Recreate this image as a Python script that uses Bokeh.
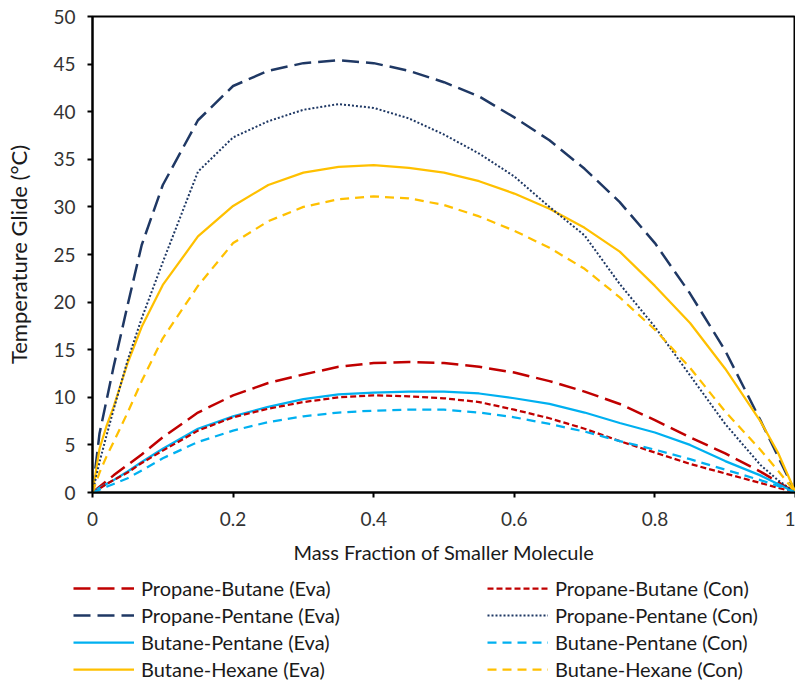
from bokeh.plotting import figure
from bokeh.models import Legend, LegendItem, FixedTicker, Range1d
from bokeh.embed import file_html
from bokeh.resources import INLINE

# ---- data ----
mass_fraction = [0, 0.01, 0.02, 0.03, 0.05, 0.07, 0.1, 0.15, 0.2, 0.25, 0.3, 0.35, 0.4,
                 0.45, 0.5, 0.55, 0.6, 0.65, 0.7, 0.75, 0.8, 0.85, 0.9, 0.95, 0.975, 1.0]

propane_butane_eva = [0, 0.6, 1.2, 1.8, 2.9, 4.0, 5.8, 8.4, 10.2, 11.5, 12.4, 13.2, 13.6,
                      13.7, 13.6, 13.2, 12.6, 11.7, 10.6, 9.3, 7.6, 5.8, 4.1, 2.2, 1.1, 0]
propane_butane_con = [0, 0.4, 0.9, 1.3, 2.1, 3.1, 4.4, 6.5, 7.9, 8.8, 9.5, 10.0, 10.2,
                      10.1, 9.9, 9.5, 8.7, 7.8, 6.7, 5.4, 4.2, 3.0, 2.0, 1.0, 0.5, 0]
propane_pentane_eva = [0, 6.2, 9.7, 13.2, 19.7, 26.0, 32.3, 39.1, 42.7, 44.3, 45.1, 45.4, 45.1,
                       44.3, 43.1, 41.6, 39.4, 37.0, 34.0, 30.5, 26.2, 20.9, 14.9, 7.6, 3.8, 0]
propane_pentane_con = [0, 3.2, 6.0, 8.7, 13.9, 18.3, 24.2, 33.7, 37.3, 39.0, 40.2, 40.8, 40.4,
                       39.3, 37.6, 35.6, 33.2, 30.0, 27.0, 21.9, 17.4, 12.3, 7.2, 2.9, 1.3, 0]
butane_pentane_eva = [0, 0.5, 0.9, 1.3, 2.2, 3.2, 4.6, 6.7, 8.0, 9.0, 9.8, 10.3, 10.5,
                      10.6, 10.6, 10.4, 9.9, 9.3, 8.4, 7.3, 6.3, 5.0, 3.3, 1.8, 0.9, 0]
butane_pentane_con = [0, 0.3, 0.6, 0.9, 1.5, 2.3, 3.6, 5.3, 6.5, 7.4, 8.0, 8.4, 8.6,
                      8.7, 8.7, 8.4, 7.9, 7.2, 6.4, 5.4, 4.5, 3.5, 2.4, 1.3, 0.7, 0]
butane_hexane_eva = [0, 4.6, 7.0, 9.0, 13.6, 17.4, 21.8, 26.9, 30.1, 32.3, 33.6, 34.2, 34.4,
                     34.1, 33.6, 32.7, 31.4, 29.8, 27.8, 25.3, 21.7, 17.8, 13.0, 7.5, 4.2, 0]
butane_hexane_con = [0, 2.1, 3.8, 5.3, 8.4, 11.7, 16.2, 21.7, 26.2, 28.5, 30.0, 30.8, 31.1,
                     30.9, 30.2, 29.0, 27.5, 25.7, 23.5, 20.5, 17.1, 13.1, 8.5, 4.5, 2.3, 0]

x_ticks = [0, 0.2, 0.4, 0.6, 0.8, 1.0]
x_tick_labels = ["0", "0.2", "0.4", "0.6", "0.8", "1"]
y_ticks = [0, 5, 10, 15, 20, 25, 30, 35, 40, 45, 50]

FONT = "Lato"
RED, NAVY, CYAN, GOLD = "#C00000", "#1F3864", "#00B0F0", "#FFC000"

p = figure(frame_width=703, frame_height=476,
           output_backend="svg", toolbar_location=None,
           x_range=Range1d(0, 1), y_range=Range1d(0, 50),
           min_border_left=92, min_border_right=0, min_border_top=16, min_border_bottom=78)

p.grid.visible = False
p.outline_line_color = "black"
p.outline_line_width = 2
p.background_fill_color = "white"

for ax in (p.xaxis[0], p.yaxis[0]):
    ax.axis_line_color = "black"
    ax.axis_line_width = 2
    ax.major_tick_line_color = "black"
    ax.major_tick_line_width = 2
    ax.major_tick_in = 0
    ax.major_tick_out = 5
    ax.minor_tick_line_color = None
    ax.major_label_text_font = FONT
    ax.major_label_text_font_size = "19px"
    ax.major_label_text_color = "#333333"
    ax.axis_label_text_font = FONT
    ax.axis_label_text_font_style = "normal"
    ax.axis_label_text_color = "#1a1a1a"

p.xaxis.ticker = FixedTicker(ticks=x_ticks)
p.xaxis.major_label_overrides = {t: l for t, l in zip(x_ticks, x_tick_labels)}
p.yaxis.ticker = FixedTicker(ticks=y_ticks)
p.xaxis.axis_label = "Mass Fraction of Smaller Molecule"
p.yaxis.axis_label = "Temperature Glide (°C)"
p.xaxis.axis_label_text_font_size = "20px"
p.yaxis.axis_label_text_font_size = "22px"
p.xaxis.major_label_standoff = 14
p.xaxis.axis_label_standoff = 11
p.yaxis.major_label_standoff = 12
p.yaxis.axis_label_standoff = 18

series = [
    ("Propane-Butane (Eva)", propane_butane_eva, RED, "17 7", 2.5),
    ("Propane-Pentane (Eva)", propane_pentane_eva, NAVY, "17 7", 2.5),
    ("Butane-Pentane (Eva)", butane_pentane_eva, CYAN, "solid", 2.25),
    ("Butane-Hexane (Eva)", butane_hexane_eva, GOLD, "solid", 2.25),
    ("Propane-Butane (Con)", propane_butane_con, RED, "6 3", 2.25),
    ("Propane-Pentane (Con)", propane_pentane_con, NAVY, "2 2", 2.0),
    ("Butane-Pentane (Con)", butane_pentane_con, CYAN, "9 6", 2.25),
    ("Butane-Hexane (Con)", butane_hexane_con, GOLD, "9 6", 2.25),
]

# legend strip shown below the chart (hidden copies of the curves supply the swatches)
leg_fig = figure(width=795, height=114, output_backend="svg", toolbar_location=None,
                 x_range=Range1d(0, 1), y_range=Range1d(0, 50),
                 x_axis_type=None, y_axis_type=None,
                 min_border_left=73, min_border_right=0, min_border_top=6, min_border_bottom=0)
leg_fig.grid.visible = False
leg_fig.outline_line_color = None

items = []
for label, ys, color, dash, w in series:
    p.line(mass_fraction, ys, line_color=color, line_width=w, line_dash=dash)
    swatch = leg_fig.line(mass_fraction, ys, line_color=color, line_width=w,
                          line_dash=dash, visible=False)
    items.append(LegendItem(label=label, renderers=[swatch]))

legend = Legend(items=items, ncols=2, orientation="vertical", location="top_left",
                label_text_font=FONT, label_text_font_size="20px",
                label_text_color="#1a1a1a", glyph_width=61, glyph_height=22,
                label_height=22, label_width=343, label_standoff=7, spacing=3,
                padding=0, margin=0, border_line_color=None, background_fill_alpha=0)
leg_fig.add_layout(legend)

open("out.html", "w").write(file_html([p, leg_fig], INLINE))
